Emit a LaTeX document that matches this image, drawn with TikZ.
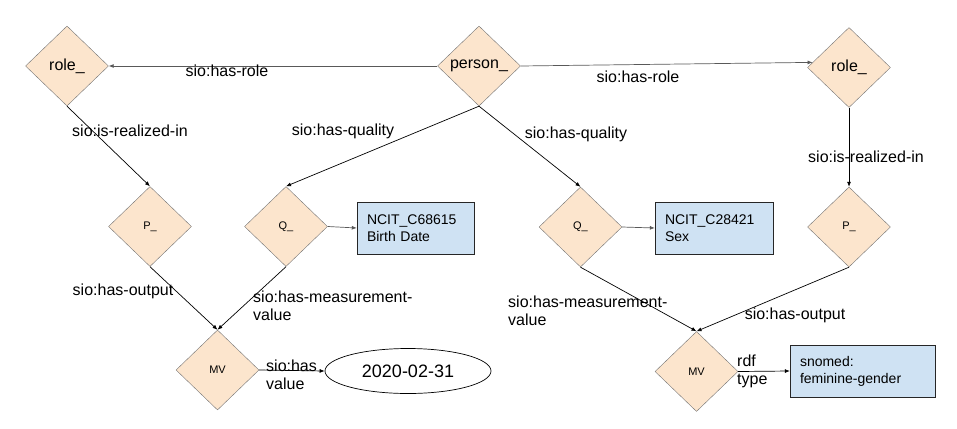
\documentclass[tikz,border=0pt]{standalone}
\usepackage{fontspec}
\setmainfont{Liberation Sans}
\usetikzlibrary{shapes.geometric,arrows.meta}
\definecolor{peach}{HTML}{FCE5CD}
\definecolor{paleblue}{HTML}{CFE2F3}
\definecolor{edgegray}{HTML}{595959}

\begin{document}
\begin{tikzpicture}[
		x=1pt, y=-1pt,
		ent/.style={diamond, aspect=1, draw=black!55, fill=peach, inner sep=0pt,
				minimum width=83pt, minimum height=80pt},
		big/.style={font=\fontsize{16}{18}\selectfont},
		small/.style={font=\fontsize{11}{13}\selectfont},
		term/.style={rectangle, draw=black!85, fill=paleblue, inner xsep=10pt, inner ysep=0pt,
				minimum height=52pt, align=left, font=\fontsize{14}{17}\selectfont},
		lbl/.style={inner sep=0pt, align=left, font=\fontsize{16}{18}\selectfont},
		rel/.style={-{Latex[length=5pt,width=4pt]}, line width=0.7pt},
		relgray/.style={rel, draw=edgegray}
	]
	\useasboundingbox (0,0) rectangle (957,428);

	% entities
	\node[ent, big] (person) at (479,66) {person\_};
	\node[ent, big] (rolea) at (67,66) {role\_};
	\node[ent, big] (roleb) at (849,67.5) {role\_};
	\node[ent, small] (pa) at (150,226.5) {P\_};
	\node[ent, small] (qa) at (286,226.5) {Q\_};
	\node[ent, small] (qb) at (580.5,227) {Q\_};
	\node[ent, small] (pb) at (849,227) {P\_};
	\node[ent, small] (mva) at (217.5,370) {MV};
	\node[ent, small] (mvb) at (696.5,371.5) {MV};

	% terms and values
	\node[term, text width=97pt] (boxa) at (415.5,228) {NCIT\_C68615\\Birth Date};
	\node[term, text width=98pt] (boxb) at (714,228) {NCIT\_C28421\\Sex};
	\node[term, text width=125pt] (gender) at (862.5,371) {snomed:\\feminine-gender};
	\node[ellipse, draw=black, line width=0.7pt, inner sep=0pt, minimum width=166pt,
		minimum height=45pt, font=\fontsize{18}{20}\selectfont] (date) at (408,371) {2020-02-31};

	% connectors
	\draw[relgray] (person.west) -- (rolea.east);
	\draw[relgray] (person.east) -- (roleb.172);
	\draw[rel] (rolea.south) -- (pa.north);
	\draw[rel] (person.south) -- (qa.north);
	\draw[rel] (person.south) -- (qb.north);
	\draw[rel] (roleb.south) -- (pb.north);
	\draw[relgray] (qa.east) -- (boxa.west);
	\draw[relgray] (qb.east) -- (boxb.west);
	\draw[rel] (pa.south) -- (mva.north);
	\draw[rel] (qa.south) -- (mva.north);
	\draw[rel] (qb.south) -- (mvb.north);
	\draw[rel] (pb.south) -- (mvb.north);
	\draw[rel] (mva.east) -- (date.west);
	\draw[rel] (mvb.east) -- (gender.west);

	% relation labels
	\node[lbl] (hasrolea) at (227,71) {sio:has-role};
	\node[lbl] (hasroleb) at (638,77) {sio:has-role};
	\node[lbl] (realizeda) at (130,131) {sio:is-realized-in};
	\node[lbl] (qualitya) at (343,131) {sio:has-quality};
	\node[lbl] (qualityb) at (576,134) {sio:has-quality};
	\node[lbl] (realizedb) at (866,157) {sio:is-realized-in};
	\node[lbl] (outputa) at (123,291) {sio:has-output};
	\node[lbl, anchor=west] (measurea) at (253,306) {sio:has-measurement-\\value};
	\node[lbl, anchor=west] (measureb) at (508,311) {sio:has-measurement-\\value};
	\node[lbl] (outputb) at (795,315) {sio:has-output};
	\node[lbl, anchor=west] (hasvalue) at (266,375) {sio:has\\value};
	\node[lbl, anchor=west] (rdftype) at (737,371) {rdf\\type};
\end{tikzpicture}
\end{document}
